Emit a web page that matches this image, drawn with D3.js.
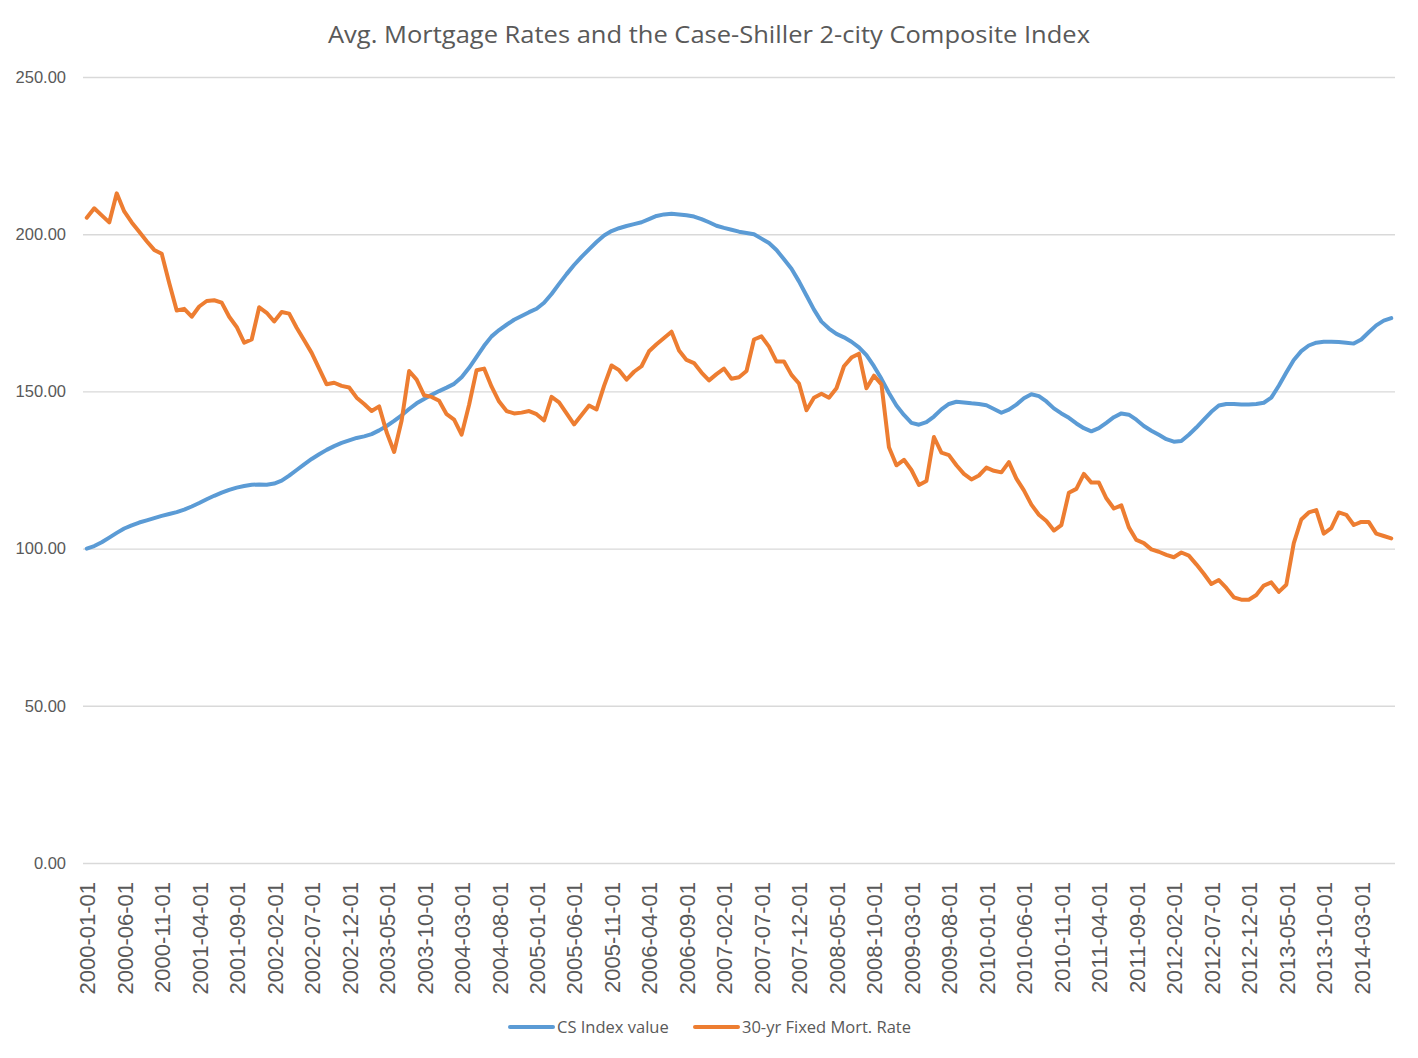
<!DOCTYPE html>
<html>
<head>
<meta charset="utf-8">
<script src="https://cdn.jsdelivr.net/npm/d3@7"></script>
<style>
  body { margin: 0; background: #fff; }
  text { fill: #595959; }
</style>
</head>
<body>
<script>

// CS 20-city composite index, monthly 2000-01 .. 2014-07
var csIndex = [
  100.0, 100.8, 102.0, 103.5, 105.0, 106.4, 107.4, 108.3, 109.0, 109.7, 110.4, 111.0,
  111.6, 112.4, 113.4, 114.5, 115.7, 116.8, 117.8, 118.7, 119.4, 119.9, 120.3, 120.4,
  120.3, 120.7, 121.6, 123.2, 125.0, 126.8, 128.5, 130.0, 131.4, 132.6, 133.6, 134.4,
  135.2, 135.7, 136.4, 137.6, 139.0, 140.6, 142.4, 144.4, 146.2, 147.6, 148.9, 150.1,
  151.2, 152.4, 154.5, 157.5, 161.0, 164.5, 167.5, 169.5, 171.2, 172.8, 174.0, 175.2,
  176.3, 178.2, 181.0, 184.2, 187.3, 190.2, 192.8, 195.2, 197.5, 199.6, 201.0, 201.9,
  202.6, 203.2, 203.8, 204.8, 205.8, 206.3, 206.5, 206.3, 206.0, 205.6, 204.8, 203.8,
  202.7, 202.0, 201.4, 200.8, 200.4, 200.0, 198.6, 197.2, 195.0, 192.0, 189.0, 185.0,
  180.5, 176.0, 172.2, 170.0, 168.3, 167.2, 165.8, 164.0, 161.5, 158.0, 154.0, 149.5,
  145.5, 142.5, 140.0, 139.4, 140.2, 142.0, 144.3, 146.0, 146.7, 146.5, 146.2, 146.0,
  145.6, 144.4, 143.2, 144.2, 145.8, 147.8, 149.1, 148.5, 146.8, 144.6, 143.0, 141.6,
  139.8, 138.3, 137.3, 138.3, 140.0, 141.8, 143.0, 142.6, 141.0, 139.0, 137.5, 136.2,
  134.8, 134.0, 134.2, 136.2, 138.5, 141.0, 143.5, 145.5, 146.0, 146.0, 145.8, 145.8,
  146.0, 146.4, 148.0, 151.8, 156.0, 160.0, 162.8, 164.6, 165.5, 165.8, 165.8, 165.7,
  165.5, 165.2, 166.5, 168.8, 171.0, 172.5, 173.3
];

// 30-yr fixed mortgage rate (scaled), same months
var mortRate = [
  205.25, 208.25, 206.00, 203.75, 213.00, 207.25, 203.75, 200.75, 197.75, 195.00, 193.75, 184.50,
  175.75, 176.25, 173.75, 177.00, 178.75, 179.00, 178.25, 173.75, 170.50, 165.50, 166.50, 176.75,
  175.00, 172.25, 175.25, 174.75, 170.25, 166.25, 162.25, 157.25, 152.25, 152.75, 151.75, 151.25,
  148.00, 146.00, 143.75, 145.25, 137.00, 130.75, 140.75, 156.50, 153.75, 148.75, 148.25, 147.00,
  142.75, 141.00, 136.25, 145.75, 156.75, 157.25, 151.50, 146.75, 143.75, 143.00, 143.25, 143.75,
  142.75, 140.75, 148.25, 146.50, 143.00, 139.50, 142.50, 145.50, 144.25, 151.75, 158.25, 156.75,
  153.75, 156.25, 158.00, 162.75, 165.00, 167.00, 169.00, 163.00, 160.00, 159.00, 156.00, 153.50,
  155.50, 157.25, 154.00, 154.50, 156.50, 166.50, 167.50, 164.25, 159.50, 159.50, 155.25, 152.50,
  144.00, 148.00, 149.25, 148.00, 151.00, 158.00, 160.75, 162.00, 151.00, 155.00, 152.25, 132.25,
  126.50, 128.25, 125.00, 120.25, 121.50, 135.50, 130.50, 129.75, 126.50, 123.75, 122.00, 123.25,
  125.75, 124.75, 124.25, 127.50, 122.25, 118.50, 114.00, 110.75, 108.75, 105.75, 107.50, 117.75,
  119.00, 123.75, 121.00, 121.00, 116.00, 112.75, 113.75, 106.75, 102.75, 101.75, 99.75, 99.00,
  98.00, 97.25, 98.75, 97.75, 95.00, 92.00, 88.75, 90.00, 87.50, 84.50, 83.75, 83.75,
  85.25, 88.25, 89.25, 86.25, 88.50, 101.75, 109.25, 111.50, 112.25, 104.75, 106.50, 111.50,
  110.75, 107.50, 108.50, 108.50, 104.75, 104.00, 103.25
];

var seriesNames = ["CS Index value", "30-yr Fixed Mort. Rate"];
var seriesColors = ["#5b9bd5", "#ed7d31"];
var yTicks = [0, 50, 100, 150, 200, 250];
var labelEvery = 5;

var fmt = d3.timeFormat("%Y-%m-%d");
var months = d3.timeMonth.range(new Date(2000, 0, 1), new Date(2014, 7, 1)).map(fmt);

var W = 1418, H = 1058;
var plotL = 83, plotR = 1395, plotT = 77, plotB = 863;

var svg = d3.select("body").append("svg")
    .attr("width", W)
    .attr("height", H)
    .style("font-family", "'Open Sans', sans-serif");

var x = d3.scalePoint()
    .domain(months)
    .range([plotL, plotR])
    .padding(0.5);

var y = d3.scaleLinear()
    .domain([0, 250])
    .range([plotB, plotT]);

// title
svg.append("text")
    .attr("x", 709)
    .attr("y", 43)
    .attr("text-anchor", "middle")
    .attr("textLength", 762)
    .attr("lengthAdjust", "spacingAndGlyphs")
    .style("font-size", "23px")
    .text("Avg. Mortgage Rates and the Case-Shiller 2-city Composite Index");

// gridlines + y labels
var yAxis = svg.append("g")
    .attr("transform", "translate(" + plotL + ",0)")
    .call(d3.axisLeft(y)
      .tickValues(yTicks)
      .tickSize(-(plotR - plotL))
      .tickPadding(17)
      .tickFormat(d3.format(".2f")));
yAxis.select(".domain").remove();
yAxis.selectAll(".tick line").attr("stroke", "#d9d9d9").attr("stroke-width", 1.4);
yAxis.selectAll(".tick text")
    .style("font-size", "16.5px")
    .attr("fill", "#595959");

// x labels (every 5th month)
var xAxis = svg.append("g")
    .attr("transform", "translate(0," + plotB + ")")
    .call(d3.axisBottom(x)
      .tickValues(months.filter(function(d, i) { return i % labelEvery == 0; }))
      .tickSize(0));
xAxis.select(".domain").remove();
xAxis.selectAll(".tick text")
    .attr("transform", "rotate(-90)")
    .attr("text-anchor", "end")
    .attr("x", -19)
    .attr("y", 0)
    .attr("dy", "0.36em")
    .attr("fill", "#595959")
    .style("font-family", "'Liberation Sans', Arial, sans-serif")
    .style("font-size", "22px");

var series = [csIndex, mortRate];

var line = d3.line()
    .x(function(d, i) { return x(months[i]); })
    .y(function(d) { return y(d); });

series.forEach(function(s, k) {
  svg.append("path")
      .datum(s)
      .attr("fill", "none")
      .attr("stroke", seriesColors[k])
      .attr("stroke-width", 4)
      .attr("stroke-linejoin", "round")
      .attr("stroke-linecap", "round")
      .attr("d", line);
});

// legend
var legX = [510, 695];
var leg = svg.append("g").attr("transform", "translate(0,1027)");
seriesNames.forEach(function(n, k) {
  leg.append("line")
      .attr("x1", legX[k]).attr("x2", legX[k] + 43)
      .attr("y1", 0).attr("y2", 0)
      .attr("stroke", seriesColors[k])
      .attr("stroke-width", 4)
      .attr("stroke-linecap", "round");
  leg.append("text")
      .attr("x", legX[k] + 47)
      .attr("y", 0)
      .attr("dy", "0.35em")
      .style("font-size", "16.5px")
      .text(n);
});

</script>
</body>
</html>
